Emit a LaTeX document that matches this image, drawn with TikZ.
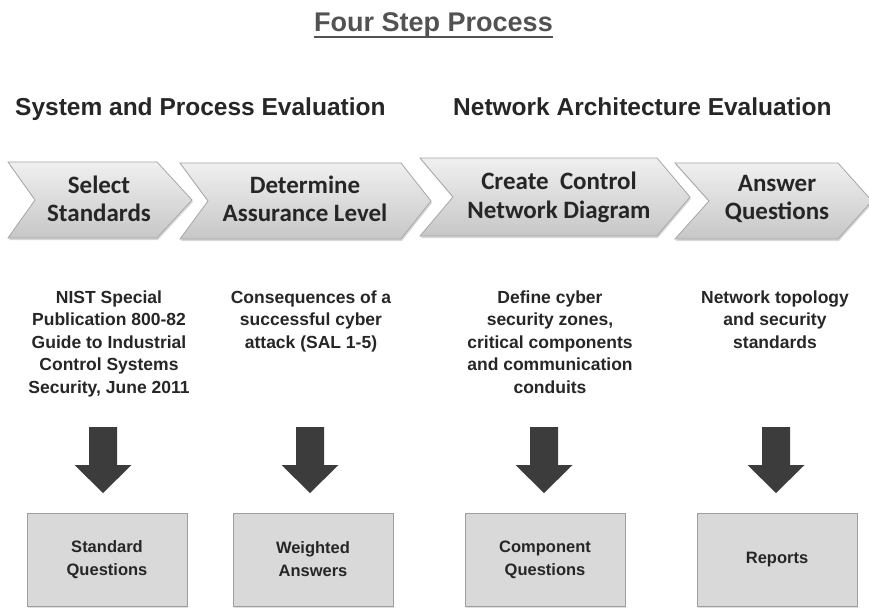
\documentclass[tikz,border=0pt]{standalone}
\usepackage{fontspec}
\setmainfont{Liberation Sans}
\newfontfamily\carlitofont{Carlito}
\usetikzlibrary{shadows}
\definecolor{txt}{HTML}{262626}
\definecolor{arrowgray}{HTML}{3C3C3C}
\begin{document}
\begin{tikzpicture}[x=1pt,y=-1pt,
  chev/.style={draw=black!35, line width=0.8pt, top color=black!6, bottom color=black!22,
    drop shadow={shadow xshift=1pt,shadow yshift=-2pt,opacity=0.3}},
  chevtext/.style={font=\carlitofont\bfseries\fontsize{25}{28.5}\selectfont, text=txt, align=center, inner sep=0pt},
  desc/.style={font=\bfseries\fontsize{17.5}{22.5}\selectfont, text=txt, align=center, inner sep=0pt, anchor=north},
  heading/.style={font=\bfseries\fontsize{24.5}{28}\selectfont, text=txt, inner sep=0pt, anchor=base west},
  result/.style={draw=black!38, line width=0.8pt, fill=black!15, minimum width=160pt, minimum height=93pt,
    font=\bfseries\fontsize{16.5}{23}\selectfont, align=center, text=txt, inner sep=0pt,
    drop shadow={shadow xshift=1pt,shadow yshift=-1.5pt,opacity=0.25}},
  arrowfill/.style={fill=arrowgray},
  downarr/.pic={\fill[arrowfill] (-14,0) -- (14,0) -- (14,38) -- (28.5,38) -- (0,66) -- (-28.5,38) -- (-14,38) -- cycle;}
]
\useasboundingbox[fill=white] (0,0) rectangle (869,607);

% title
\node[font=\bfseries\fontsize{27}{30}\selectfont, text=black!68, inner sep=0pt, anchor=base] (title) at (433.5,32) {Four Step Process};
\draw[line width=2pt, black!68] ([yshift=-5pt]title.base west) -- ([yshift=-5pt]title.base east);

% headings
\node[heading] (h1) at (15,116) {System and Process Evaluation};
\node[heading] (h2) at (453,116) {Network Architecture Evaluation};

% chevrons
\path[chev] (8,162) -- (157,162) -- (192,200) -- (157,238) -- (8,238) -- (35,200) -- cycle;
\path[chev] (180,163) -- (401,163) -- (431,201) -- (401,239) -- (180,239) -- (208,201) -- cycle;
\path[chev] (420,158) -- (657,158) -- (690,197) -- (657,236) -- (420,236) -- (453,197) -- cycle;
\path[chev] (675,163) -- (838,163) -- (872,201) -- (838,239) -- (675,239) -- (709,201) -- cycle;

\node[chevtext] (c1) at (99,199) {Select\\Standards};
\node[chevtext] (c2) at (305,199) {Determine\\Assurance Level};
\node[chevtext] (c3) at (559,197.5) {Create\ \ Control\\Network Diagram};
\node[chevtext] (c4) at (777,199) {Answer\\Questions};

% descriptions
\node[desc] (d1) at (109,290.5) {NIST Special\\Publication 800-82\\Guide to Industrial\\Control Systems\\Security, June 2011};
\node[desc] (d2) at (311,290.5) {Consequences of a\\successful cyber\\attack (SAL 1-5)};
\node[desc] (d3) at (550,290.5) {Define cyber\\security zones,\\critical components\\and communication\\conduits};
\node[desc] (d4) at (775,290.5) {Network topology\\and security\\standards};

% arrows
\pic at (103,427) {downarr};
\pic at (310,427) {downarr};
\pic at (544,427) {downarr};
\pic at (776,427) {downarr};

% result boxes
\node[result] (r1) at (107,559.5) {Standard\\Questions};
\node[result] (r2) at (313,559.5) {Weighted\\Answers};
\node[result] (r3) at (545,559.5) {Component\\Questions};
\node[result] (r4) at (777,559.5) {Reports};
\end{tikzpicture}
\end{document}
